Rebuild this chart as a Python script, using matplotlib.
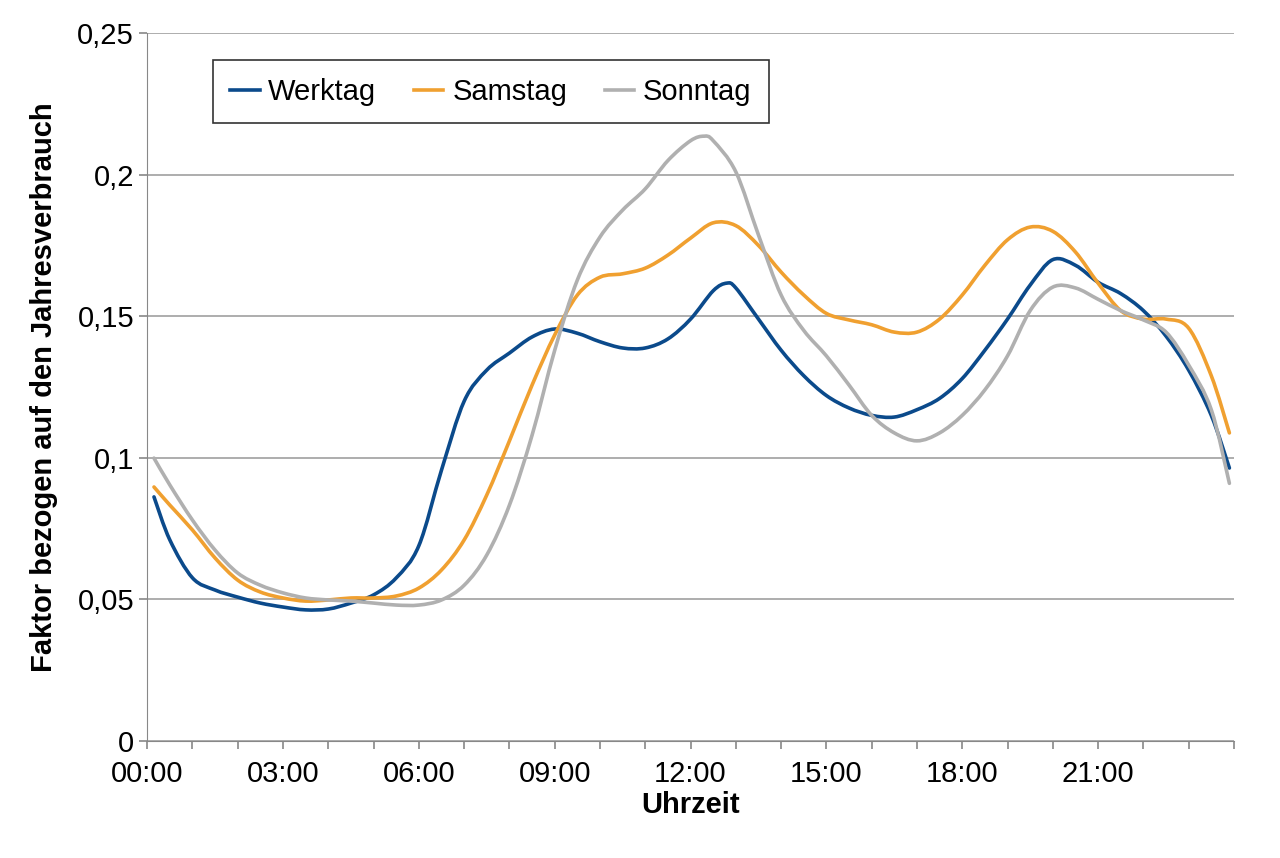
import matplotlib
matplotlib.use("Agg")
import matplotlib.pyplot as plt
import numpy as np
from matplotlib.ticker import MultipleLocator, FuncFormatter
from matplotlib.path import Path
from matplotlib.patches import PathPatch

plt.rcParams['font.family'] = ['Liberation Sans', 'DejaVu Sans']

t_w = [0.15,0.5,1,1.5,2,2.5,3,3.5,4,4.5,5,5.5,6,6.5,7,7.5,8,8.5,9,9.5,10,10.5,11,11.5,12,12.5,12.8,13,13.5,14,14.5,15,15.5,16,16.5,17,17.5,18,18.5,19,19.5,20,20.5,21,21.5,22,22.5,23,23.5,23.9]
werktag = [0.0862,0.071,0.0576,0.0533,0.0508,0.0487,0.0473,0.0463,0.0466,0.0487,0.0516,0.0576,0.069,0.0957,0.120,0.131,0.137,0.1427,0.1455,0.144,0.141,0.1388,0.1388,0.142,0.149,0.159,0.1617,0.160,0.149,0.138,0.129,0.122,0.1176,0.115,0.1144,0.117,0.121,0.128,0.138,0.149,0.161,0.170,0.168,0.162,0.158,0.152,0.143,0.131,0.115,0.0964]
t_s = [0.15,0.5,1,1.5,2,2.5,3,3.5,4,4.5,5,5.5,6,6.5,7,7.5,8,8.5,9,9.5,10,10.5,11,11.5,12,12.5,13,13.5,14,14.5,15,15.5,16,16.5,17,17.5,18,18.5,19,19.5,20,20.5,21,21.5,22,22.5,23,23.5,23.9]
samstag = [0.0897,0.0833,0.0745,0.0646,0.0568,0.0526,0.0505,0.0494,0.0498,0.0505,0.0505,0.0512,0.054,0.0604,0.071,0.0869,0.106,0.1257,0.1434,0.1575,0.1638,0.165,0.167,0.1716,0.1776,0.183,0.182,0.175,0.1656,0.1575,0.151,0.1487,0.147,0.1444,0.1444,0.149,0.1575,0.168,0.177,0.1815,0.180,0.1727,0.1617,0.152,0.149,0.149,0.1458,0.129,0.1088]
t_so = [0.15,0.5,1,1.5,2,2.5,3,3.5,4,4.5,5,5.5,6,6.5,7,7.5,8,8.5,9,9.5,10,10.5,11,11.5,12,12.3,12.5,13,13.5,14,14.5,15,15.5,16,16.5,17,17.5,18,18.5,19,19.5,20,20.5,21,21.5,22,22.5,23,23.5,23.9]
sonntag = [0.0999,0.0904,0.078,0.0674,0.0593,0.055,0.0523,0.0505,0.0498,0.0494,0.0487,0.048,0.048,0.0498,0.055,0.0657,0.0833,0.108,0.138,0.1628,0.178,0.1875,0.195,0.205,0.212,0.2136,0.212,0.201,0.1787,0.1575,0.145,0.136,0.1257,0.115,0.1088,0.106,0.1088,0.115,0.124,0.136,0.152,0.1603,0.160,0.156,0.152,0.1487,0.1444,0.1328,0.117,0.091]

fig = plt.figure(figsize=(12.8, 8.58), dpi=100)
ax = fig.add_axes([0.115, 0.1364, 0.849, 0.825])

def smooth_line(ax, x, y, color, label):
    # smooth rendering through the data points using Bezier segments (Catmull-Rom style)
    x = np.asarray(x, float); y = np.asarray(y, float)
    verts = [(x[0], y[0])]; codes = [Path.MOVETO]
    n = len(x)
    for i in range(n - 1):
        x0, y0 = (x[i-1], y[i-1]) if i > 0 else (x[i], y[i])
        x3, y3 = (x[i+2], y[i+2]) if i + 2 < n else (x[i+1], y[i+1])
        c1 = (x[i] + (x[i+1] - x0) / 6, y[i] + (y[i+1] - y0) / 6)
        c2 = (x[i+1] - (x3 - x[i]) / 6, y[i+1] - (y3 - y[i]) / 6)
        verts += [c1, c2, (x[i+1], y[i+1])]; codes += [Path.CURVE4] * 3
    ax.add_patch(PathPatch(Path(verts, codes), facecolor='none', edgecolor=color, lw=2.6,
                           capstyle='round', joinstyle='round'))
    ax.plot([], [], color=color, lw=2.6, label=label)

smooth_line(ax, t_w, werktag, '#0b4a8b', 'Werktag')
smooth_line(ax, t_s, samstag, '#f0a030', 'Samstag')
smooth_line(ax, t_so, sonntag, '#b0b0b0', 'Sonntag')

ax.set_xlim(0, 24)
ax.set_ylim(0, 0.25)
ax.xaxis.set_major_locator(MultipleLocator(3))
ax.xaxis.set_minor_locator(MultipleLocator(1))
ax.xaxis.set_major_formatter(FuncFormatter(lambda v, p: f"{int(v):02d}:00" if v < 24 else ""))
ax.yaxis.set_major_locator(MultipleLocator(0.05))
ax.yaxis.set_major_formatter(FuncFormatter(lambda v, p: "0" if v == 0 else f"{v:.2f}".rstrip('0').replace('.', ',')))
ax.grid(axis='y', color='#a0a0a0', lw=1.2)
ax.set_axisbelow(True)
for s in ['top', 'right']:
    ax.spines[s].set_visible(False)
ax.spines['left'].set_color('#888888')
ax.spines['bottom'].set_color('#888888')
ax.tick_params(axis='both', labelsize=21, color='#888888', length=6, width=1.2)
ax.tick_params(axis='x', which='minor', color='#888888', length=6, width=1.2)
ax.tick_params(axis='x', pad=8)
ax.set_xlabel('Uhrzeit', fontsize=21, fontweight='bold', labelpad=2)
ax.set_ylabel('Faktor bezogen auf den Jahresverbrauch', fontsize=21, fontweight='bold', labelpad=14)

leg = ax.legend(loc='upper left', bbox_to_anchor=(0.047, 0.982), ncol=3, fontsize=21,
                frameon=True, fancybox=False, edgecolor='black', handlelength=1.0,
                handletextpad=0.3, columnspacing=1.3, borderpad=0.6)
leg.get_frame().set_linewidth(1.2)
fig.savefig('out.png', dpi=100, facecolor='white')
